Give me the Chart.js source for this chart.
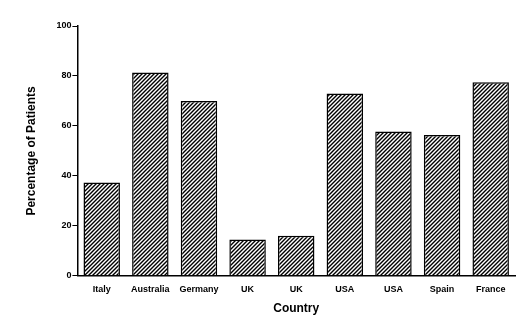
<!DOCTYPE html>
<html>
<head>
<meta charset="utf-8">
<script src="https://cdn.jsdelivr.net/npm/chart.js"></script>
<style>
  html, body { margin: 0; padding: 0; background: #fff; }
  #wrap { width: 524px; height: 331px; position: relative; }
</style>
</head>
<body>
<div id="wrap"><canvas id="c"></canvas></div>
<script>
    // chart data
    const countries = ['Italy', 'Australia', 'Germany', 'UK', 'UK', 'USA', 'USA', 'Spain', 'France'];
    const percentPatients = [37.3, 81.4, 70, 14.5, 16, 73, 57.8, 56.4, 77.5];
    const yTicks = [0, 20, 40, 60, 80, 100];

    // diagonal hatch for bars
    function makeHatch() {
        const p = document.createElement('canvas');
        p.width = 4;
        p.height = 4;
        const g = p.getContext('2d');
        g.fillStyle = '#fff';
        g.fillRect(0, 0, 4, 4);
        g.strokeStyle = '#000';
        g.lineWidth = 1.4;
        g.beginPath();
        g.moveTo(0, 4); g.lineTo(4, 0);
        g.moveTo(-1, 1); g.lineTo(1, -1);
        g.moveTo(3, 5); g.lineTo(5, 3);
        g.stroke();
        return g.createPattern(p, 'repeat');
    }

    const font = { family: '"Liberation Sans", Arial, sans-serif', weight: 'bold' };

    new Chart(document.getElementById('c').getContext('2d'), {
        type: 'bar',
        data: {
            labels: countries,
            datasets: [{
                data: percentPatients,
                backgroundColor: makeHatch(),
                borderColor: '#000',
                borderWidth: 1.5,
                borderSkipped: 'bottom',
                categoryPercentage: 0.75,
                barPercentage: 1
            }]
        },
        options: {
            responsive: true,
            maintainAspectRatio: false,
            animation: false,
            layout: { padding: { top: 26, right: 9, left: 20, bottom: 11 } },
            plugins: { legend: { display: false }, tooltip: { enabled: false } },
            scales: {
                x: {
                    border: { color: '#000', width: 1.5 },
                    grid: { display: false },
                    ticks: { color: '#000', font: { ...font, size: 9 }, padding: 0, maxRotation: 0 },
                    title: { display: true, text: 'Country', color: '#000', font: { ...font, size: 12 }, padding: { top: 7 } }
                },
                y: {
                    min: 0,
                    max: 100,
                    afterBuildTicks: axis => { axis.ticks = yTicks.map(v => ({ value: v })); },
                    border: { color: '#000', width: 1.5 },
                    grid: { drawOnChartArea: false, drawTicks: true, tickLength: 5, color: '#000', lineWidth: 1 },
                    ticks: { color: '#000', font: { ...font, size: 9 }, padding: 1 },
                    title: { display: true, text: 'Percentage of Patients', color: '#000', font: { ...font, size: 12 }, padding: { bottom: 17 } }
                }
            }
        }
    });
</script>
</body>
</html>
